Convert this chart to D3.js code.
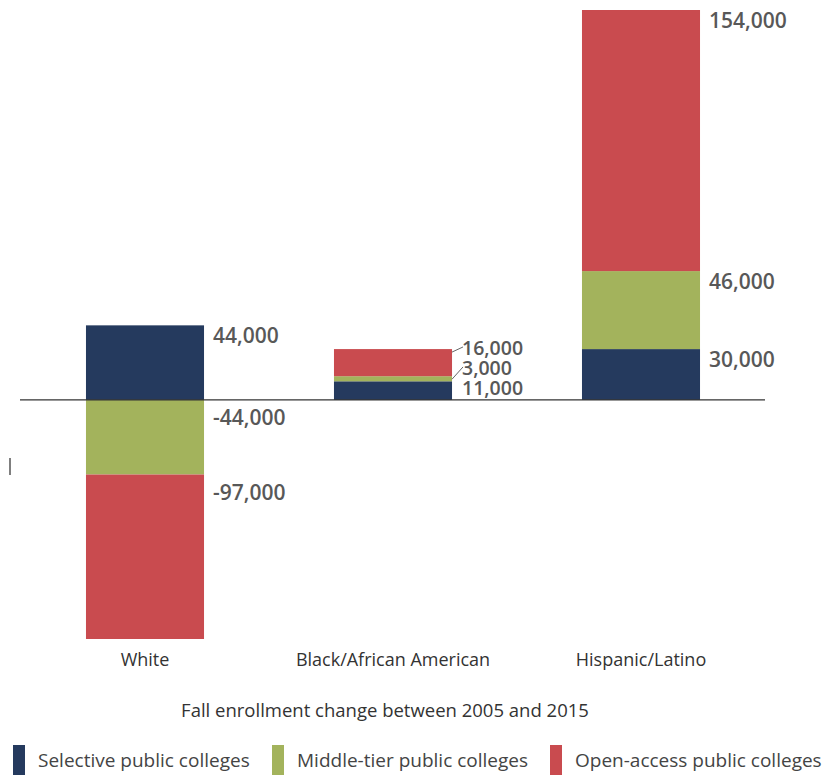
<!DOCTYPE html>
<html>
<head>
<meta charset="utf-8">
<script src="https://cdn.jsdelivr.net/npm/d3@7"></script>
<style>
  body { margin: 0; background: #fff; }
  svg text { font-family: "Open Sans", sans-serif; }
</style>
</head>
<body>
<script>
// categories and series (fall enrollment change, 2005 -> 2015)
const categories = ["White", "Black/African American", "Hispanic/Latino"];
const seriesNames = ["Selective public colleges", "Middle-tier public colleges", "Open-access public colleges"];
const selective = [44000, 11000, 30000];
const middleTier = [-44000, 3000, 46000];
const openAccess = [-97000, 16000, 154000];
const seriesColors = ["#253a5e", "#a3b35c", "#c94b4f"];
const axisTitle = "Fall enrollment change between 2005 and 2015";

const width = 825, height = 777;

const rows = categories.map((c, i) => ({
  category: c,
  s0: selective[i],
  s1: middleTier[i],
  s2: openAccess[i]
}));

const stack = d3.stack()
  .keys(["s0", "s1", "s2"])
  .offset(d3.stackOffsetDiverging);
const layers = stack(rows);

const x = d3.scaleBand()
  .domain(categories)
  .range([21, 765])
  .paddingInner(0.524)
  .paddingOuter(0.262);

const y = d3.scaleLinear()
  .domain([-141000, 230000])
  .range([639, 10]);

// hyphen instead of unicode minus, like the original
const fmt = v => d3.format(",")(v).replace("\u2212", "-");

const svg = d3.select("body").append("svg")
  .attr("width", width)
  .attr("height", height);

// bars
layers.forEach((layer, li) => {
  svg.append("g")
    .selectAll("rect")
    .data(layer)
    .join("rect")
    .attr("x", d => x(d.data.category))
    .attr("width", x.bandwidth())
    .attr("y", d => y(d[1]))
    .attr("height", d => y(d[0]) - y(d[1]))
    .attr("fill", seriesColors[li]);
});

// zero line
svg.append("line")
  .attr("x1", 20).attr("x2", 765)
  .attr("y1", y(0)).attr("y2", y(0))
  .attr("stroke", "#333")
  .attr("stroke-width", 1.3);

// small stray tick at left
svg.append("line")
  .attr("x1", 10).attr("x2", 10)
  .attr("y1", 458).attr("y2", 475)
  .attr("stroke", "#555")
  .attr("stroke-width", 1.5);

// value labels
const labelG = svg.append("g");
categories.forEach((c, ci) => {
  const segs = layers.map((layer, li) => ({
    v: rows[ci]["s" + li],
    top: layer[ci][1],
    bottom: layer[ci][0]
  }));
  const lx = x(c) + x.bandwidth() + 9;
  const total = d3.sum(segs, s => Math.abs(s.v));
  const crowded = y(0) - y(total) < 60 && segs.every(s => s.v >= 0);
  segs.forEach((s, si) => {
    let base;
    if (crowded) {
      base = y(0) - 5 - si * 20;
      // leader line from segment top to label
      if (si > 0) {
        labelG.append("line")
          .attr("x1", x(c) + x.bandwidth()).attr("y1", y(s.top) + 3)
          .attr("x2", lx + 2).attr("y2", base - 8)
          .attr("stroke", "#666").attr("stroke-width", 1);
      }
    } else if (s.v >= 0) {
      base = y(s.top) + 18;
    } else {
      base = y(s.top) + 25;
    }
    labelG.append("text")
      .attr("x", lx + (crowded ? 1 : 0))
      .attr("y", base)
      .attr("font-size", crowded ? 19.5 : 21)
      .attr("font-weight", 600)
      .attr("fill", "#585858")
      .text(fmt(s.v));
  });
});

// category labels
svg.append("g")
  .selectAll("text")
  .data(categories)
  .join("text")
  .attr("x", d => x(d) + x.bandwidth() / 2)
  .attr("y", 666)
  .attr("text-anchor", "middle")
  .attr("font-size", 18)
  .attr("fill", "#333")
  .text(d => d);

// axis title
svg.append("text")
  .attr("x", 385)
  .attr("y", 717)
  .attr("text-anchor", "middle")
  .attr("font-size", 18.5)
  .attr("fill", "#333")
  .text(axisTitle);

// legend
const legendX = [13, 272, 550];
const legend = svg.append("g")
  .selectAll("g")
  .data(seriesNames)
  .join("g")
  .attr("transform", (d, i) => `translate(${legendX[i]},745)`);
legend.append("rect")
  .attr("width", 12).attr("height", 30)
  .attr("fill", (d, i) => seriesColors[i]);
legend.append("text")
  .attr("x", 25).attr("y", 22)
  .attr("font-size", 19)
  .attr("fill", "#444")
  .text(d => d);
</script>
</body>
</html>
